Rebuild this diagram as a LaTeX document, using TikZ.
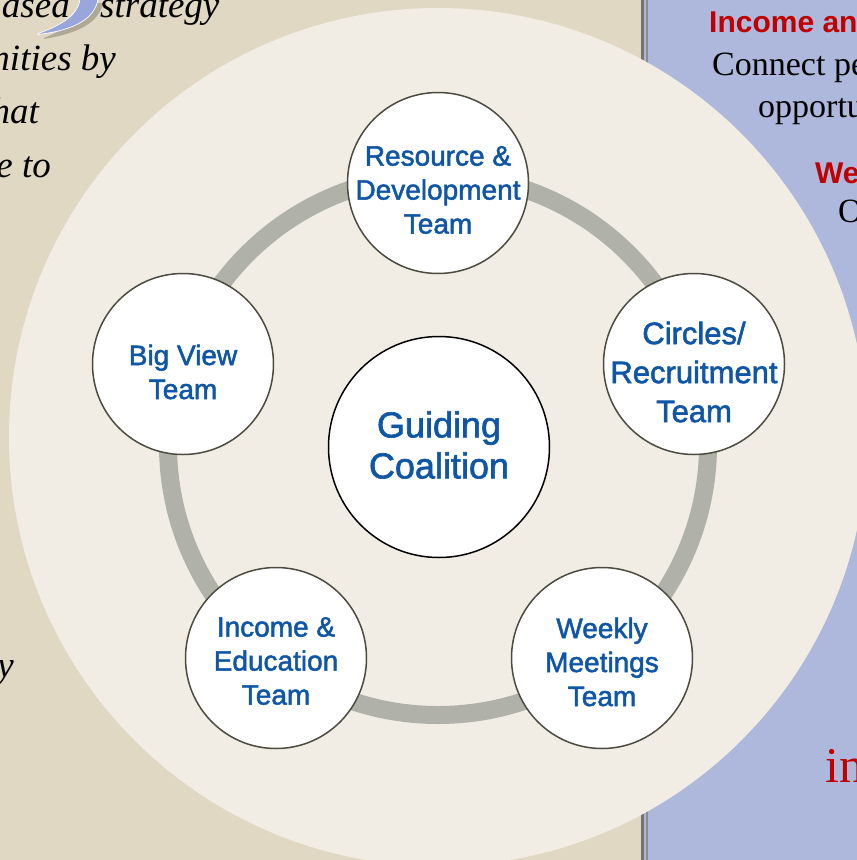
\documentclass[tikz,border=0pt]{standalone}
\usepackage{fontspec}
\setmainfont{Liberation Sans}
\newfontfamily\slidefont{Liberation Serif}
\newfontfamily\teamfont{Liberation Sans}[FakeBold=1.8]
\usetikzlibrary{positioning}
\definecolor{panelcolor}{RGB}{224,216,194}
\definecolor{sidecolor}{RGB}{173,184,220}
\definecolor{disccolor}{RGB}{241,237,229}
\definecolor{ringcolor}{RGB}{176,177,169}
\definecolor{teamcolor}{RGB}{16,86,166}
\definecolor{edgecolor}{RGB}{75,75,64}
\definecolor{headcolor}{RGB}{192,0,0}
\definecolor{swooshcolor}{RGB}{152,166,220}

\begin{document}
\begin{tikzpicture}[
    x=1pt, y=-1pt,
    team/.style={circle, draw=edgecolor, line width=1.5pt, fill=white, minimum size=181pt, inner sep=0pt},
    core/.style={team, draw=black, minimum size=221pt},
    teamtext/.style={align=center, inner sep=0pt, text=teamcolor, font=\teamfont\fontsize{28}{34}\selectfont},
    body/.style={inner sep=0pt, font=\slidefont\itshape\fontsize{37}{44}\selectfont},
    side/.style={inner sep=0pt, anchor=base west, font=\slidefont\fontsize{34}{40}\selectfont},
    head/.style={inner sep=0pt, anchor=base west, text=headcolor, font=\bfseries\fontsize{30}{36}\selectfont}
]
    \useasboundingbox (0,0) rectangle (857,860);
    \clip (0,0) rectangle (857,860);

    % Slide background
    \fill[panelcolor] (0,0) rectangle (641,860);
    \fill[sidecolor] (641,0) rectangle (857,860);
    \fill[black!55] (641,0) rectangle (644,860);
    \fill[black!45] (646,0) rectangle (648,860);

    % Text behind the picture
    \node[body, anchor=base east] (based) at (70,17) {ased};
    \node[body, anchor=base west] (strategy) at (100,17) {strategy};
    \node[body, anchor=base east] (bythe) at (116,70) {nities by};
    \node[body, anchor=base east] (that) at (39,123) {hat};
    \node[body, anchor=base east] (eto) at (51,177) {e to};
    \node[body, anchor=base east] (ylast) at (14,677) {y};
    \fill[black, opacity=0.22] (44,39) .. controls (80,33) and (99,22) .. (103,3) -- (85,3) .. controls (83,18) and (68,28) .. (44,38) -- cycle;
    \filldraw[fill=swooshcolor, draw=white, line width=0.7pt] (38,33.5) .. controls (62,25) and (78,15) .. (80,-1) -- (98,-1) .. controls (95,18) and (76,30) .. (38,34.5) -- cycle;

    \node[head] (income) at (709,32) {Income an};
    \node[side] (connect) at (712,75) {Connect peo};
    \node[side] (oppo) at (758,117) {opportu};
    \node[head] (weekly) at (815,183) {We};
    \node[side] (ofrag) at (838,222) {O};
    \node[side, text=headcolor, font=\slidefont\fontsize{50}{56}\selectfont] (infrag) at (825,782) {in};

    % Disc and ring
    \fill[disccolor] (438,437) circle[radius=429pt];
    \coordinate (hub) at (438,445);
    \draw[ringcolor, line width=18pt] (hub) circle[radius=270pt];

    % Nodes
    \node[core, label={[teamtext, font=\teamfont\fontsize{36}{41}\selectfont, yshift=2pt]center:Guiding\\Coalition}] (coalition) at (439,447) {};
    \node[team, label={[teamtext, yshift=-7pt]center:Resource \&\\Development\\Team}] (resource) at (438,183) {};
    \node[team, label={[teamtext, font=\teamfont\fontsize{31}{39}\selectfont, yshift=-8pt]center:Circles/\\Recruitment\\Team}] (circles) at (694,364) {};
    \node[team, label={[teamtext, yshift=-4pt]center:Weekly\\Meetings\\Team}] (meetings) at (602,658) {};
    \node[team, label={[teamtext, yshift=-3pt]center:Income \&\\Education\\Team}] (education) at (276,658) {};
    \node[team, label={[teamtext, yshift=-8pt]center:Big View\\Team}] (bigview) at (183,364) {};
\end{tikzpicture}
\end{document}
